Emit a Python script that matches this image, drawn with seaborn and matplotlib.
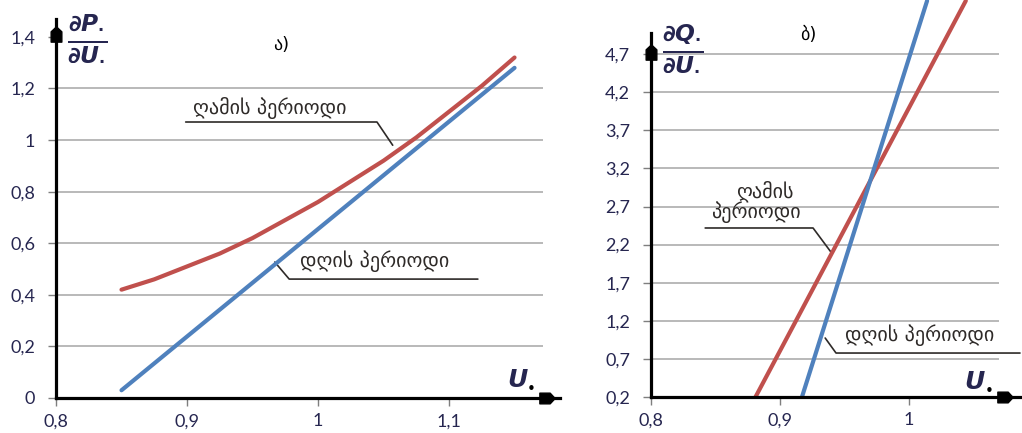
import numpy as np
import pandas as pd
import matplotlib
matplotlib.use("Agg")
import matplotlib.pyplot as plt
from matplotlib.path import Path
import seaborn as sns

# ---- data -------------------------------------------------------------
# a) dP*/dU* versus U*
u_p_night = [0.85, 0.875, 0.90, 0.925, 0.95, 0.975, 1.00, 1.025, 1.05, 1.075, 1.10, 1.125, 1.15]
p_night = [0.42, 0.46, 0.51, 0.56, 0.62, 0.69, 0.76, 0.84, 0.92, 1.01, 1.11, 1.21, 1.32]
u_p_day = [0.85, 1.15]
p_day = [0.03, 1.28]

# b) dQ*/dU* versus U*
u_q_night = [0.881, 1.044]
q_night = [0.2, 5.4]
u_q_day = [0.917, 1.014]
q_day = [0.2, 5.4]

p_yticks = [0, 0.2, 0.4, 0.6, 0.8, 1.0, 1.2, 1.4]
p_ylabels = ["0", "0,2", "0,4", "0,6", "0,8", "1", "1,2", "1,4"]
p_xticks = [0.8, 0.9, 1.0, 1.1]
p_xlabels = ["0,8", "0,9", "1", "1,1"]

q_yticks = [0.2, 0.7, 1.2, 1.7, 2.2, 2.7, 3.2, 3.7, 4.2, 4.7]
q_ylabels = ["0,2", "0,7", "1,2", "1,7", "2,2", "2,7", "3,2", "3,7", "4,2", "4,7"]
q_xticks = [0.8, 0.9, 1.0]
q_xlabels = ["0,8", "0,9", "1"]

night_label = "ღამის პერიოდი"
day_label = "დღის პერიოდი"

# ---- style ------------------------------------------------------------
sns.set_theme(style="white")
plt.rcParams["font.family"] = ["Lato", "DejaVu Sans"]
plt.rcParams["mathtext.fontset"] = "custom"
plt.rcParams["mathtext.it"] = "DejaVu Sans:italic:bold"
plt.rcParams["mathtext.rm"] = "DejaVu Sans:bold"
plt.rcParams["mathtext.bf"] = "DejaVu Sans:bold"

RED = "#c0504d"
BLUE = "#4f81bd"
GRID = "#a6a6a6"
TXT = "#262650"
ANN = "#2e2a28"

fig = plt.figure(figsize=(10.22, 4.33), dpi=100)
W, H = 1022.0, 433.0
ax1 = fig.add_axes([56 / W, 35 / H, 504 / W, 398 / H])
ax2 = fig.add_axes([651 / W, 36 / H, 369 / W, 397 / H])

# arrow-head markers (square body with a pointed nose)
arrow_x = Path([(-1, -0.7), (0.35, -0.7), (1, 0), (0.35, 0.7), (-1, 0.7), (-1, -0.7)],
               [Path.MOVETO, Path.LINETO, Path.LINETO, Path.LINETO, Path.LINETO, Path.CLOSEPOLY])
arrow_y = Path([(-0.7, -1), (0.7, -1), (0.7, 0.35), (0, 1), (-0.7, 0.35), (-0.7, -1)],
               [Path.MOVETO, Path.LINETO, Path.LINETO, Path.LINETO, Path.LINETO, Path.CLOSEPOLY])


def frame(ax, xlim, ylim, ytop, yticks, ylabels, xticks, xlabels, grid_vals, grid_end,
          xarrow, yarrow):
    ax.set_xlim(*xlim)
    ax.set_ylim(*ylim)
    ax.hlines(grid_vals, xlim[0], grid_end, color=GRID, lw=1.1, zorder=1)
    for side in ("top", "right"):
        ax.spines[side].set_visible(False)
    for side in ("left", "bottom"):
        ax.spines[side].set_color("black")
        ax.spines[side].set_linewidth(2.3)
        ax.spines[side].set_zorder(5)
    ax.spines["left"].set_bounds(ylim[0], ytop)
    ax.spines["bottom"].set_bounds(xlim[0], xlim[1])
    ax.set_yticks(yticks)
    ax.set_yticklabels(ylabels)
    ax.set_xticks(xticks)
    ax.set_xticklabels(xlabels)
    ax.tick_params(axis="both", which="major", direction="out", length=6, width=1,
                   color="#7f7f7f", labelcolor=TXT, labelsize=13, left=True, bottom=True)
    ax.tick_params(axis="y", pad=9)
    ax.tick_params(axis="x", pad=5)
    ax.plot([xarrow], [ylim[0]], marker=arrow_x, markersize=11, color="black",
            clip_on=False, zorder=6)
    ax.plot([xlim[0]], [yarrow], marker=arrow_y, markersize=11, color="black",
            clip_on=False, zorder=6)
    ax.set_xlabel("")
    ax.set_ylabel("")


def u_label(ax, x, y):
    ax.text(x, y, "U", fontsize=18, color=TXT, ha="center", va="center",
            family="DejaVu Sans", fontstyle="italic", fontweight="bold")
    ax.annotate("•", (x, y), xytext=(10, -7), textcoords="offset points", fontsize=11,
                color="black", ha="center", va="center", family="DejaVu Sans")


# ---- a) -----------------------------------------------------------------
df_p = pd.concat([
    pd.DataFrame({"U": u_p_night, "v": p_night, "period": "night"}),
    pd.DataFrame({"U": u_p_day, "v": p_day, "period": "day"}),
])
sns.lineplot(data=df_p, x="U", y="v", hue="period", palette={"night": RED, "day": BLUE},
             lw=3.0, legend=False, ax=ax1, sort=False, estimator=None, zorder=3)
frame(ax1, (0.8, 1.1847), (0.0, 1.543), 1.47, p_yticks, p_ylabels, p_xticks, p_xlabels,
      [0.2, 0.4, 0.6, 0.8, 1.0, 1.2], 1.172, 1.1744, 1.41)

ax1.text(0.8085, 1.40, r"$\frac{\partial P_{\bullet}}{\partial U_{\bullet}}$", fontsize=24,
         color=TXT, ha="left", va="center", clip_on=False)
u_label(ax1, 1.152, 0.07)
ax1.text(0.972, 1.37, "ა)", fontsize=13, color="black", ha="center", va="center",
         family="DejaVu Sans")

ax1.text(0.9046, 1.124, night_label, fontsize=14.5, color=ANN, ha="left", va="center",
         family="DejaVu Sans")
ax1.plot([0.899, 1.045, 1.057], [1.07, 1.07, 0.98], color=ANN, lw=1.2, zorder=2)
ax1.text(0.986, 0.531, day_label, fontsize=14.5, color=ANN, ha="left", va="center",
         family="DejaVu Sans")
ax1.plot([0.967, 0.978, 1.122], [0.527, 0.461, 0.461], color=ANN, lw=1.2, zorder=2)

# ---- b) -----------------------------------------------------------------
df_q = pd.concat([
    pd.DataFrame({"U": u_q_night, "v": q_night, "period": "night"}),
    pd.DataFrame({"U": u_q_day, "v": q_day, "period": "day"}),
])
sns.lineplot(data=df_q, x="U", y="v", hue="period", palette={"night": RED, "day": BLUE},
             lw=3.0, legend=False, ax=ax2, sort=False, estimator=None, zorder=3)
frame(ax2, (0.8, 1.086), (0.2, 5.41), 4.98, q_yticks, q_ylabels, q_xticks, q_xlabels,
      [0.7, 1.2, 1.7, 2.2, 2.7, 3.2, 3.7, 4.2, 4.7], 1.07, 1.0744, 4.73)

ax2.text(0.8085, 4.79, r"$\frac{\partial Q_{\bullet}}{\partial U_{\bullet}}$", fontsize=24,
         color=TXT, ha="left", va="center", clip_on=False)
u_label(ax2, 1.051, 0.40)
ax2.text(0.922, 4.95, "ბ)", fontsize=13, color="black", ha="center", va="center",
         family="DejaVu Sans")

ax2.text(0.888, 2.90, "ღამის", fontsize=14.5, color=ANN, ha="center", va="center",
         family="DejaVu Sans")
ax2.text(0.881, 2.63, "პერიოდი", fontsize=14.5, color=ANN, ha="center", va="center",
         family="DejaVu Sans")
ax2.plot([0.842, 0.9256, 0.940], [2.418, 2.418, 2.09], color=ANN, lw=1.2, zorder=2)
ax2.text(0.9504, 1.01, day_label, fontsize=14.5, color=ANN, ha="left", va="center",
         family="DejaVu Sans")
ax2.plot([0.935, 0.9434, 1.086], [0.974, 0.777, 0.777], color=ANN, lw=1.2, zorder=2,
         clip_on=False)

fig.savefig("out.png", dpi=100)
